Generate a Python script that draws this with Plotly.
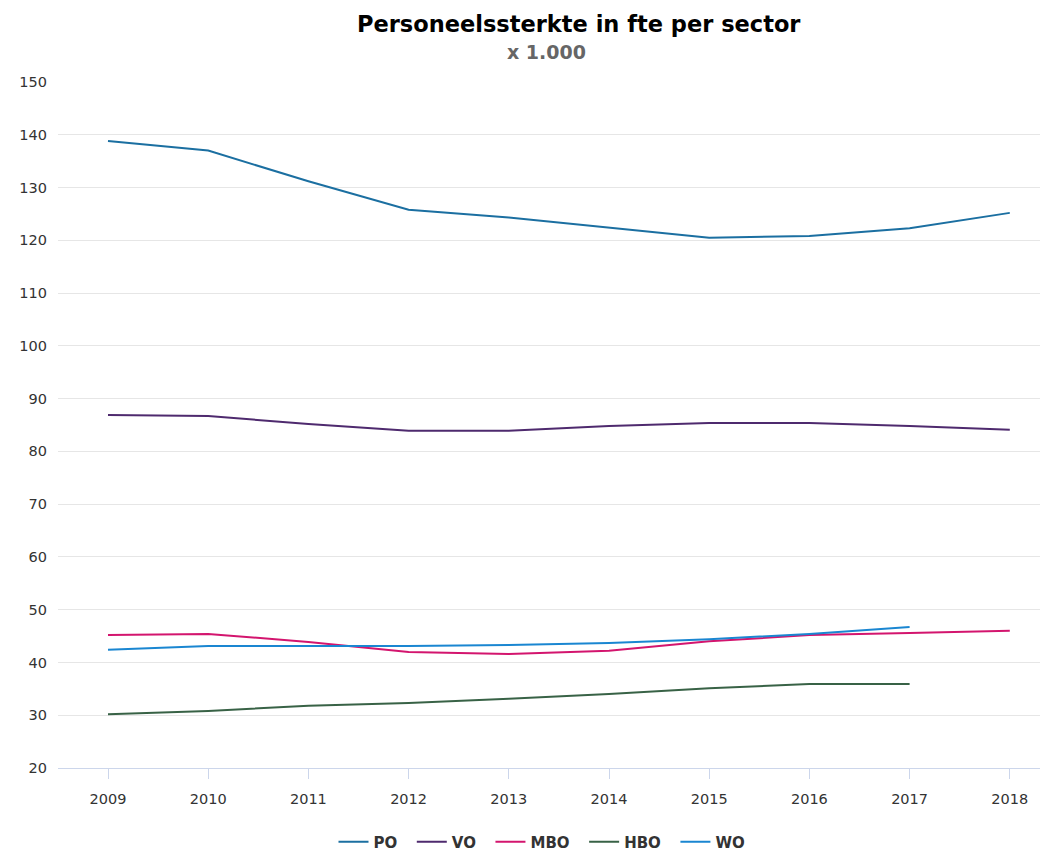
import plotly.graph_objects as go

years = [2009, 2010, 2011, 2012, 2013, 2014, 2015, 2016, 2017, 2018]
po = [138.8, 137.0, 131.2, 125.8, 124.3, 122.4, 120.5, 120.8, 122.3, 125.2]
vo = [86.9, 86.7, 85.2, 83.9, 83.9, 84.8, 85.4, 85.4, 84.8, 84.1]
mbo = [45.2, 45.4, 43.9, 42.0, 41.6, 42.2, 44.0, 45.2, 45.6, 46.0]
hbo = [30.2, 30.8, 31.8, 32.3, 33.1, 34.0, 35.1, 35.9, 35.9]
wo = [42.4, 43.1, 43.1, 43.1, 43.3, 43.7, 44.4, 45.4, 46.7]
yticks = [20, 30, 40, 50, 60, 70, 80, 90, 100, 110, 120, 130, 140, 150]

series = [
    ("PO", po, "#1b6fa1"),
    ("VO", vo, "#4e2a6e"),
    ("MBO", mbo, "#d3156e"),
    ("HBO", hbo, "#386246"),
    ("WO", wo, "#1a86d1"),
]

# page has an 8px body margin; figure sized to fit the window
OFF = 8
W, H = 1032, 847
L, R, T = 58 - OFF, 0, 82 - OFF
B = H - (768 - OFF)
plot_w = W - L - R
plot_h = H - T - B

fig = go.Figure()
for i, (name, vals, col) in enumerate(series):
    pad = "" if i == len(series) - 1 else "\u00a0\u00a0"
    fig.add_trace(go.Scatter(
        x=years[:len(vals)], y=vals, name="<b>" + name + "</b>" + pad, mode="lines",
        line=dict(color=col, width=2),
    ))

def px_x(px):
    return (px - OFF - L) / plot_w

def px_y(py):
    return (H - B - (py - OFF)) / plot_h

step = 100.2
x0 = 2009 - 50 / step
x1 = 2009 + (plot_w - 50) / step

fig.update_layout(
    width=W, height=H,
    paper_bgcolor="white", plot_bgcolor="white",
    margin=dict(l=L, r=R, t=T, b=B, autoexpand=False),
    font=dict(family="DejaVu Sans", size=14, color="#333333"),
    showlegend=True,
    legend=dict(orientation="h", x=px_x(542), xanchor="center", y=px_y(842), yanchor="middle",
                font=dict(size=15, color="#333333", family="DejaVu Sans"),
                traceorder="normal", itemwidth=30),
    annotations=[
        dict(text="<b>Personeelssterkte in fte per sector</b>", x=px_x(579), y=px_y(23.5),
             xref="paper", yref="paper", xanchor="center", yanchor="middle",
             showarrow=False, font=dict(size=22.5, color="#000000")),
        dict(text="<b>x 1.000</b>", x=px_x(546), y=px_y(52),
             xref="paper", yref="paper", xanchor="center", yanchor="middle",
             showarrow=False, font=dict(size=19, color="#666666")),
    ],
)

fig.update_xaxes(
    range=[x0, x1], tickvals=years, ticktext=[str(y) for y in years],
    showgrid=False, showline=True, linecolor="#ccd6eb", linewidth=1,
    ticks="outside", ticklen=10, tickcolor="#ccd6eb", zeroline=False,
    tickfont=dict(size=14.5, color="#333333"), automargin=False,
    ticklabelstandoff=8,
)
fig.update_yaxes(
    range=[20, 150], tickvals=yticks, showgrid=True, gridcolor="#e6e6e6",
    zeroline=False, showline=False, ticks="", ticklabelstandoff=10,
    tickfont=dict(size=14.5, color="#333333"), automargin=False,
)

fig.write_html("out.html")
